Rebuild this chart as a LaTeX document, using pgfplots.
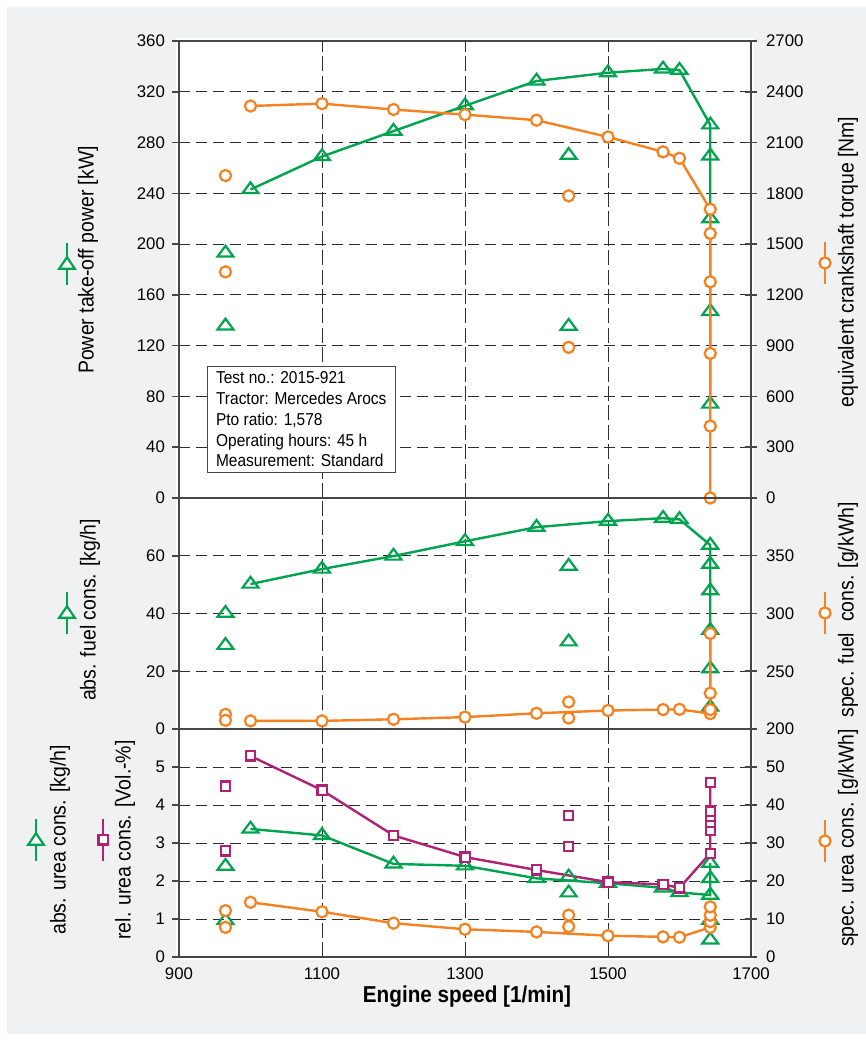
\documentclass[border=0pt]{standalone}
\usepackage{pgfplots}
\pgfplotsset{compat=1.18}
\usepackage{fontspec}
\setmainfont{Liberation Sans}
\newfontfamily\cond[FakeStretch=0.9]{Liberation Sans}
\definecolor{cgreen}{RGB}{0,164,79}
\definecolor{corange}{RGB}{245,130,32}
\definecolor{cpurple}{RGB}{178,34,116}
\definecolor{bgray}{RGB}{240,241,243}
\definecolor{axisgray}{RGB}{70,70,70}
\definecolor{gridc}{RGB}{45,45,45}
\pgfplotsset{
  base/.style={scale only axis, width=286pt, xmin=900, xmax=1700, clip=false,
    anchor=south west,
    tick label style={font=\fontsize{8.4}{10}\selectfont},
    /pgf/number format/assume math mode=true,
    /pgf/number format/1000 sep={},
    axis line style={axisgray, line width=0.75pt},
    tick style={axisgray, line width=0.75pt}},
  leftax/.style={base, ytick pos=left, tick align=outside, major tick length=3.5pt,
    xtick={900,1100,...,1700}, xtick style={draw=none},
    xmajorgrids, ymajorgrids,
    major x grid style={dash pattern=on 7.5pt off 2.2pt, gridc, line width=0.5pt},
    major y grid style={dash pattern=on 5.5pt off 3pt, gridc, line width=0.5pt}},
  rightax/.style={base, axis y line*=right, axis x line=none, tick align=center,
    major tick length=6pt, yticklabel style={xshift=1pt}},
  gline/.style={cgreen, line width=1.2pt, mark=triangle, mark size=4.6pt,
    mark options={solid, fill=white, line width=1.1pt, yscale=0.78}},
  oline/.style={corange, line width=1.2pt, mark=*, mark size=2.8pt,
    mark options={solid, fill=white, draw=corange, line width=1.1pt}},
  pline/.style={cpurple, line width=1.2pt, mark=square*, mark size=2.3pt,
    mark options={solid, fill=white, draw=cpurple, line width=1.1pt}},
}
\newcommand{\gtri}[2]{\draw[cgreen, line width=1.2pt] ({#1},{#2-10.5}) -- ({#1},{#2+10.5});
  \filldraw[cgreen, fill=white, line width=1.1pt] ({#1-3.9},{#2-2.4}) -- ({#1+3.9},{#2-2.4}) -- ({#1},{#2+3.4}) -- cycle;}
\newcommand{\ocirc}[2]{\draw[corange, line width=1.2pt] ({#1},{#2-10.5}) -- ({#1},{#2+10.5});
  \filldraw[corange, fill=white, line width=1.1pt] ({#1},{#2}) circle (2.8);}
\newcommand{\psq}[2]{\draw[cpurple, line width=1.2pt] ({#1},{#2-10.5}) -- ({#1},{#2+10.5});
  \filldraw[cpurple, fill=white, line width=1.1pt] ({#1-2.3},{#2-2.3}) rectangle ({#1+2.3},{#2+2.3});}
\begin{document}
\begin{tikzpicture}
\begin{scope}[x=1pt,y=1pt]
\fill[white] (0,0) rectangle (433,524);
\fill[bgray] (3.5,7) rectangle (433,520.5);
\fill[white] (88,44) rectangle (377,505);
\end{scope}

% ---------- TOP PANEL ----------
\begin{axis}[leftax, at={(89.5pt,275pt)}, height=228.5pt,
  ymin=0, ymax=360, ytick={0,40,...,360}, xticklabels={}]
\addplot[gline] coordinates {(1000,243)(1100,269)(1200,289)(1300,309)(1400,328.5)(1500,335)(1577,338)(1600,337)(1643,294)(1643,269.5)(1643,220)(1643,147)(1643,74)};
\addplot[gline, only marks] coordinates {(965,193)(965,135.6)(1445,270)(1445,135.4)};
\end{axis}
\begin{axis}[rightax, at={(89.5pt,275pt)}, height=228.5pt,
  ymin=0, ymax=2700, ytick={0,300,...,2700}]
\addplot[oline] coordinates {(1000,2316)(1100,2330)(1200,2295)(1300,2265)(1400,2232)(1500,2133)(1577,2045)(1600,2007)(1643,1706)(1643,1563)(1643,1277)(1643,854)(1643,425)(1643,0)};
\addplot[oline, only marks] coordinates {(965,1905)(965,1336)(1445,1785)(1445,890)};
\end{axis}

% ---------- MIDDLE PANEL ----------
\begin{axis}[leftax, at={(89.5pt,159.5pt)}, height=115.5pt,
  ymin=0, ymax=80, ytick={0,20,40,60,80}, yticklabels={0,20,40,60,}, xticklabels={}]
\addplot[gline] coordinates {(1000,50.2)(1100,55.4)(1200,59.9)(1300,65)(1400,69.9)(1500,72)(1577,73)(1600,72.6)(1643,63.7)(1643,57.1)(1643,47.9)(1643,34.2)(1643,20.9)(1643,7.6)};
\addplot[gline, only marks] coordinates {(965,40.1)(965,29)(1445,56.4)(1445,30.2)};
\end{axis}
\begin{axis}[rightax, at={(89.5pt,159.5pt)}, height=115.5pt,
  ymin=200, ymax=400, ytick={200,250,300,350}]
\addplot[oline] coordinates {(1000,207)(1100,207)(1200,208.4)(1300,210.3)(1400,213.6)(1500,216)(1577,216.8)(1600,217)(1643,213.3)(1643,216.8)(1643,231)(1643,282.7)};
\addplot[oline, only marks] coordinates {(965,212.7)(965,207.5)(1445,223.4)(1445,209.5)};
\end{axis}

% ---------- BOTTOM PANEL ----------
\begin{axis}[leftax, at={(89.5pt,45.5pt)}, height=114pt,
  ymin=0, ymax=6, ytick={0,1,...,6}, yticklabels={0,1,2,3,4,5,},
  xticklabel style={yshift=1.5pt}]
\addplot[gline] coordinates {(1000,3.37)(1100,3.2)(1200,2.45)(1300,2.4)(1400,2.07)(1500,1.94)(1577,1.82)(1600,1.7)(1643,1.63)(1643,2.07)(1643,2.47)};
\addplot[gline, only marks] coordinates {(965,2.39)(965,0.96)(1445,2.11)(1445,1.69)(1643,0.97)(1643,0.45)};
\addplot[pline] coordinates {(1000,5.29)(1100,4.39)(1200,3.2)(1300,2.63)(1400,2.29)(1500,1.97)(1577,1.91)(1600,1.82)(1643,2.73)(1643,3.34)(1643,3.55)(1643,3.7)(1643,3.84)(1643,4.59)};
\addplot[pline, only marks] coordinates {(965,4.5)(965,2.79)(1445,3.73)(1445,2.91)};
\end{axis}
\begin{axis}[rightax, at={(89.5pt,45.5pt)}, height=114pt,
  ymin=0, ymax=60, ytick={0,10,...,50}]
\addplot[oline] coordinates {(1000,14.4)(1100,11.9)(1200,8.9)(1300,7.3)(1400,6.6)(1500,5.6)(1577,5.3)(1600,5.2)(1643,7.8)(1643,9.3)(1643,11)(1643,13.2)};
\addplot[oline, only marks] coordinates {(965,12.2)(965,7.8)(1445,11)(1445,8)};
\end{axis}

\begin{scope}[x=1pt,y=1pt]
% ---------- info box ----------
\node[draw=axisgray, fill=white, line width=0.5pt, anchor=north west, align=left,
  inner xsep=4.5pt, inner ysep=2.8pt,
  font=\cond\fontsize{8.6}{10.4}\selectfont] at (103.3,341.2)
  {Test no.: 2015-921\\Tractor: Mercedes Arocs\\Pto ratio: 1,578\\Operating hours: 45 h\\Measurement: Standard};

% ---------- axis labels ----------
\begin{scope}[every node/.style={rotate=90, font=\cond\fontsize{10.8}{12}\selectfont}]
\node at (44,394) {Power take-off power [kW]};
\node at (45,219) {abs. fuel cons. [kg/h]};
\node at (30,104) {abs. urea cons. [kg/h]};
\node at (62.5,104) {rel. urea cons. [Vol.-\%]};
\node at (424,393) {equivalent crankshaft torque [Nm]};
\node at (424,219) {spec. fuel\ \ cons. [g/kWh]};
\node at (424,105) {spec. urea cons. [g/kWh]};
\end{scope}
\gtri{33.5}{392}
\gtri{33.5}{217.5}
\gtri{18}{104}
\psq{51.5}{104}
\ocirc{412.5}{392.5}
\ocirc{412.5}{217.5}
\ocirc{412.5}{103.5}
\node[font=\cond\bfseries\fontsize{11.5}{13}\selectfont] at (233.5,25.5) {Engine speed [1/min]};
\end{scope}
\end{tikzpicture}
\end{document}
